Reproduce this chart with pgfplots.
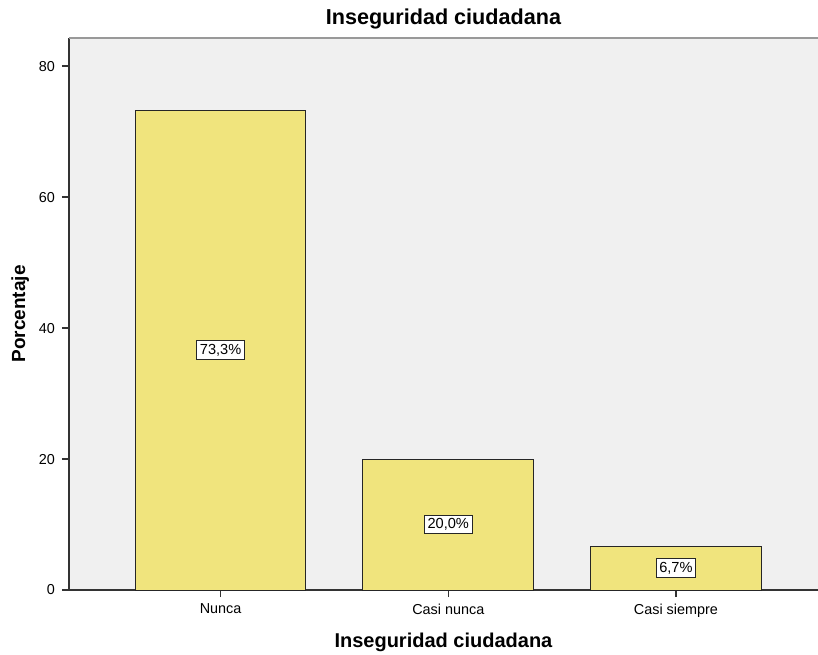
\documentclass[border=0pt]{standalone}
\usepackage{pgfplots}
\pgfplotsset{compat=1.18}
\usepackage{fontspec}
\setmainfont{Liberation Sans}
\definecolor{plotbg}{RGB}{240,240,240}
\definecolor{barfill}{RGB}{240,228,125}
\begin{document}
\begin{tikzpicture}
\begin{axis}[
    scale only axis,
    width=374.5pt, height=276pt,
    xmin=-0.666, xmax=2.624,
    ymin=0, ymax=84.3,
    axis x line*=bottom, axis y line*=left,
    axis line style={black!80, line width=0.7pt},
    axis background/.style={fill=plotbg},
    xtick={0,1,2},
    xticklabels={Nunca,Casi nunca,Casi siempre},
    ytick={0,20,40,60,80},
    tick align=outside,
    major tick length=3.5pt,
    tick style={black!80, line width=0.7pt},
    ticklabel style={font=\fontsize{7.2}{8}\selectfont},
    /pgf/number format/assume math mode=true,
    title={\textbf{Inseguridad ciudadana}},
    title style={font=\fontsize{10.8}{12}\selectfont, yshift=-5pt},
    xlabel={\textbf{Inseguridad ciudadana}},
    xlabel style={font=\fontsize{10}{12}\selectfont, yshift=-1pt},
    ylabel={\textbf{Porcentaje}},
    ylabel style={font=\fontsize{9.5}{11}\selectfont, yshift=-2pt},
    clip=false,
]
\addplot[ybar, bar width=0.75, fill=barfill, draw=black!85, line width=0.5pt]
    coordinates {(0,73.3) (1,20.0) (2,6.7)};
\addplot[draw=none, mark=none, point meta=explicit symbolic,
    nodes near coords, nodes near coords align=center,
    every node near coord/.append style={fill=white, draw=black!85, line width=0.45pt,
        inner sep=1.6pt, font=\fontsize{7.3}{8}\selectfont}]
    coordinates {(0,36.65)[73,3\%] (1,10.0)[20,0\%] (2,3.35)[6,7\%]};
\draw[gray!80, line width=1pt] (rel axis cs:0,1) -- (rel axis cs:1,1);
\end{axis}
\pgfresetboundingbox
\useasboundingbox (-34.5pt,-32pt) rectangle (374.5pt,295pt);
\end{tikzpicture}
\end{document}
